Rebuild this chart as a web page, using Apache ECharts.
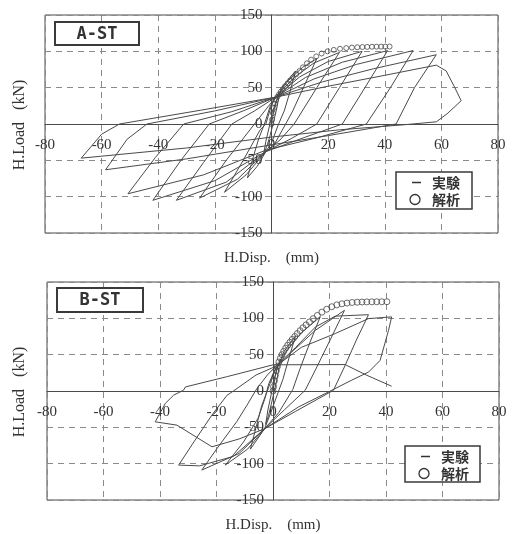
<!DOCTYPE html>
<html>
<head>
<meta charset="utf-8">
<script src="https://cdn.jsdelivr.net/npm/echarts/dist/echarts.min.js"></script>
<style>
  html, body { margin: 0; padding: 0; background: #fff; }
  #chart { width: 514px; height: 534px; }
</style>
</head>
<body>
<div id="chart"></div>
<script>
// Axis ticks (shared by both panels)
const xTicks = [-80, -60, -40, -20, 0, 20, 40, 60, 80];
const yTicks = [-150, -100, -50, 0, 50, 100, 150];

// Specimen A-ST: measured load-displacement path (mm, kN)
const dispA = [
  0, 0.8, 1.8, 2.8, 2.0, 0.8, -0.5, -1.6, -2.8, -2.0, -0.8, 0.3, 1.5,
  4, 8.5, 6.5, 4.5, 2.5, 0, -2, -5, -8.5, -6.5, -4.5, -2.5, -0.5, 1.5,
  6, 11, 16, 11.5, 7.5, 5, 1, -2, -9, -16.6, -10, -4, -2, 0, 1.5,
  8, 15, 24, 16, 8, 3, -2, -12, -25.4, -16, -6, -2, 1.5,
  10, 20, 32, 24, 16, 7, -2, -16, -33.6, -24, -14, -6, 1.5,
  12, 25, 41, 33, 25, 12, -2, -20, -41.9, -32, -22, -10, 1.5,
  15, 30, 50, 42, 33.5, 16, -2, -24, -50.7, -41, -31, -14, 1.5,
  18, 36, 58.2, 50.5, 44, 20, -2, -30, -58.6, -51, -44, -20, 1.5,
  20, 40, 58.2, 61.7, 64.5, 67, 62, 58.2, 47, 24, 0, -30, -67.2, -60, -53.7, -25, 1.5
];
const loadA = [
  0, 18, 32, 42, 24, 4, -16, -30, -42, -24, -4, 16, 30,
  52, 73, 44, 18, 0, -26, -38, -58, -74, -46, -20, 0, 24, 37,
  60, 78, 90, 52, 18, 0, -28, -38, -70, -94, -50, -8, 0, 26, 37,
  64, 84, 98.5, 50, 0, -22, -38, -76, -102, -50, 0, 20, 37,
  65, 86, 100, 50, 0, -20, -38, -80, -105, -53, 0, 18, 37,
  64, 85, 101, 50, 0, -18, -38, -78, -105, -50, 0, 18, 37,
  62, 82, 101, 50, 0, -19, -36, -70, -96, -46, 0, 17, 37,
  58, 76, 95.3, 50, 0, -16, -30, -48, -63, -21, 0, 18, 37,
  52, 67, 81, 73, 52, 32, 14, 3, -1, -8, -18, -33, -47, -14, 0, 19, 37
];

// Specimen A-ST: analysis (monotonic) points
const calcDispA = [0, 0.2, 0.5, 0.8, 1.2, 1.6, 2.1, 2.7, 3.3, 4.0, 4.8, 5.7, 6.6, 7.6, 8.7, 9.9, 11.1,
  12.5, 14.0, 15.8, 17.7, 19.8, 22.0, 24.2, 26.4, 28.4, 30.3, 32.1, 33.8, 35.5, 37.1, 38.7, 40.2, 41.7];
const calcLoadA = [0, 6, 15, 22, 28, 33, 37.5, 41, 44.5, 48, 52, 56, 60, 64, 68.5, 73, 78,
  83.5, 88.5, 93, 97, 100, 102, 103.5, 104.5, 105.2, 105.6, 105.9, 106.1, 106.3, 106.4, 106.5, 106.5, 106.6];

// Specimen B-ST: measured load-displacement path (mm, kN)
const dispB = [
  0, 0.8, 1.8, 2.6, 1.8, 0.6, -0.6, -1.6, -2.6, -1.8, -0.6, 0.4, 1.5,
  4, 8, 6, 3.5, 2, -1, -3, -5.5, -8, -6, -4, -2, 0, 1.5,
  5, 10, 16.7, 13, 9.5, 7, 2, -3, -9, -16.9, -10.4, -5.2, -3, -1.5, 1,
  6.7, 15, 25.3, 20.2, 15, 11.4, 4, -3, -12, -25.2, -19.8, -12.8, -9.2, -5.7, -2, 1,
  8, 15, 22, 33.8, 29.5, 25.5, 21.4, 8, -3, -14, -26, -33.4, -28, -21.6, -16.3, -14, -6, 1,
  10, 22, 33.8, 42, 40.9, 37.9, 33.8, 27.9, 20.8, 9, -3, -12, -21.6, -34, -41.7,
  -38.1, -35.2, -31.7, -31, -16, 0, 25.5, 33, 42
];
const loadB = [
  0, 20, 36, 44, 24, 2, -18, -34, -46, -26, -4, 16, 32,
  55, 76, 50, 16, 0, -32, -52, -66, -80, -50, -20, 0, 22, 34,
  56, 80, 102, 66, 30, 2, -30, -52, -80, -102, -70, -37, -12, 10, 32,
  54, 83.5, 111, 70, 29, 1, -26, -52, -86, -108.8, -79, -42, -19.5, 3.4, 22, 34,
  60, 88, 103, 105, 70, 35, 1, -28, -52, -90, -103, -102, -70, -33, -6, 0, 22, 34,
  60, 79, 99.6, 102, 83.5, 42, 26, 15, 1, -22, -52, -66, -76.8, -47, -42.4,
  -17, -5.8, 1, 5.6, 20, 36, 36.4, 22, 6.6
];

// Specimen B-ST: analysis (monotonic) points
const calcDispB = [0, 0.2, 0.5, 0.8, 1.2, 1.6, 2.1, 2.6, 3.2, 3.8, 4.5, 5.2, 6.0, 6.8, 7.7, 8.6, 9.6, 10.6,
  11.7, 12.9, 14.2, 15.7, 17.3, 19.0, 20.8, 22.6, 24.4, 26.2, 28.0, 29.8, 31.5, 33.2, 35.0, 36.7, 38.5, 40.3];
const calcLoadB = [0, 6, 14, 21, 28, 34, 40, 45, 50, 54.5, 59, 63, 67, 71, 75, 79, 83, 87,
  91, 95, 99.5, 104, 108.5, 112.5, 116, 118.5, 120, 121, 121.8, 122.2, 122.5, 122.6, 122.7, 122.8, 122.8, 122.8];

const panelNames = ['A-ST', 'B-ST'];
const legendNames = ['実験', '解析'];
const xTitle = 'H.Disp.    (mm)';
const yTitle = 'H.Load   (kN)';

const pairs = (xs, ys) => xs.map((x, i) => [x, ys[i]]);

const serif = '"Liberation Serif", "Times New Roman", serif';
const lineCol = '#4a4a4a';
const textCol = '#333';

const grids = [
  { left: 45, top: 15, width: 453, height: 218 },
  { left: 47, top: 282, width: 452, height: 218 }
];

const xMin = xTicks[0], xMax = xTicks[xTicks.length - 1];
const yMin = yTicks[0], yMax = yTicks[yTicks.length - 1];

// Axes cross at the origin: shift each axis from the grid edge to the zero line
function xAxisCfg(gi) {
  const g = grids[gi];
  return {
    type: 'value', gridIndex: gi, position: 'bottom',
    min: xMin, max: xMax, interval: xTicks[1] - xTicks[0],
    offset: -g.height * (0 - yMin) / (yMax - yMin),
    axisLine: { onZero: false, lineStyle: { color: lineCol, width: 1 } },
    axisTick: { show: false },
    axisLabel: { margin: 14, color: textCol, fontFamily: serif, fontSize: 15,
      showMinLabel: true, showMaxLabel: true },
    splitLine: { show: true, lineStyle: { type: [6, 5], color: '#8a8a8a', width: 1 } }
  };
}
function yAxisCfg(gi) {
  const g = grids[gi];
  return {
    type: 'value', gridIndex: gi, position: 'left',
    min: yMin, max: yMax, interval: yTicks[1] - yTicks[0],
    offset: -g.width * (0 - xMin) / (xMax - xMin),
    axisLine: { onZero: false, lineStyle: { color: lineCol, width: 1 } },
    axisTick: { show: false },
    axisLabel: { margin: 9, color: textCol, fontFamily: serif, fontSize: 15,
      showMinLabel: true, showMaxLabel: true },
    splitLine: { show: true, lineStyle: { type: [6, 5], color: '#8a8a8a', width: 1 } }
  };
}

function panelGraphics(gi) {
  const g = grids[gi];
  const cx = g.left + g.width / 2;
  const cy = g.top + g.height / 2;
  const tag = gi === 0 ? { x: 55, y: 22, w: 84, h: 23 } : { x: 57, y: 288, w: 86, h: 24 };
  const leg = gi === 0 ? { x: 396, y: 172, w: 76, h: 37 } : { x: 405, y: 446, w: 75, h: 36 };
  return [
    { type: 'rect', shape: { x: tag.x, y: tag.y, width: tag.w, height: tag.h },
      style: { fill: '#fff', stroke: '#3a3a3a', lineWidth: 2 }, z: 10 },
    { type: 'text', x: tag.x + tag.w / 2, y: tag.y + tag.h / 2 + 1, z: 11,
      style: { text: panelNames[gi], fill: '#333', font: 'bold 17px "DejaVu Sans Mono", monospace',
        textAlign: 'center', textVerticalAlign: 'middle' } },
    { type: 'rect', shape: { x: leg.x, y: leg.y, width: leg.w, height: leg.h },
      style: { fill: '#fff', stroke: '#3a3a3a', lineWidth: 1.5 }, z: 10 },
    { type: 'line', shape: { x1: leg.x + 16, y1: leg.y + 10.5, x2: leg.x + 25, y2: leg.y + 10.5 },
      style: { stroke: '#333', lineWidth: 1.5 }, z: 11 },
    { type: 'circle', shape: { cx: leg.x + 19, cy: leg.y + 27.5, r: 5 },
      style: { fill: 'none', stroke: '#333', lineWidth: 1.3 }, z: 11 },
    { type: 'text', x: leg.x + 36, y: leg.y + 10.5, z: 11,
      style: { text: legendNames[0], fill: '#333', font: 'bold 14px "Noto Sans CJK JP", sans-serif',
        textAlign: 'left', textVerticalAlign: 'middle' } },
    { type: 'text', x: leg.x + 36, y: leg.y + 27.5, z: 11,
      style: { text: legendNames[1], fill: '#333', font: 'bold 14px "Noto Sans CJK JP", sans-serif',
        textAlign: 'left', textVerticalAlign: 'middle' } },
    { type: 'text', x: cx, y: g.top + g.height + 25, z: 11,
      style: { text: xTitle, fill: textCol, font: '15px ' + serif,
        textAlign: 'center', textVerticalAlign: 'middle' } },
    { type: 'text', x: 20, y: cy + 1, rotation: Math.PI / 2, z: 11,
      style: { text: yTitle, fill: textCol, font: '16px ' + serif,
        textAlign: 'center', textVerticalAlign: 'middle' } }
  ];
}

const chart = echarts.init(document.getElementById('chart'), null, { renderer: 'canvas' });
chart.setOption({
  animation: false,
  backgroundColor: '#fff',
  grid: grids.map(g => Object.assign({ show: true, borderColor: lineCol, borderWidth: 1,
    backgroundColor: 'transparent', containLabel: false }, g)),
  xAxis: [xAxisCfg(0), xAxisCfg(1)],
  yAxis: [yAxisCfg(0), yAxisCfg(1)],
  series: [
    { name: legendNames[0], type: 'line', xAxisIndex: 0, yAxisIndex: 0, data: pairs(dispA, loadA),
      symbol: 'none', lineStyle: { color: lineCol, width: 1 }, z: 3 },
    { name: legendNames[1], type: 'scatter', xAxisIndex: 0, yAxisIndex: 0, data: pairs(calcDispA, calcLoadA),
      symbol: 'circle', symbolSize: 5,
      itemStyle: { color: 'rgba(255,255,255,0)', borderColor: lineCol, borderWidth: 1 }, z: 4 },
    { name: legendNames[0], type: 'line', xAxisIndex: 1, yAxisIndex: 1, data: pairs(dispB, loadB),
      symbol: 'none', lineStyle: { color: lineCol, width: 1 }, z: 3 },
    { name: legendNames[1], type: 'scatter', xAxisIndex: 1, yAxisIndex: 1, data: pairs(calcDispB, calcLoadB),
      symbol: 'circle', symbolSize: 6,
      itemStyle: { color: 'rgba(255,255,255,0)', borderColor: lineCol, borderWidth: 1 }, z: 4 }
  ],
  graphic: panelGraphics(0).concat(panelGraphics(1))
});
</script>
</body>
</html>
